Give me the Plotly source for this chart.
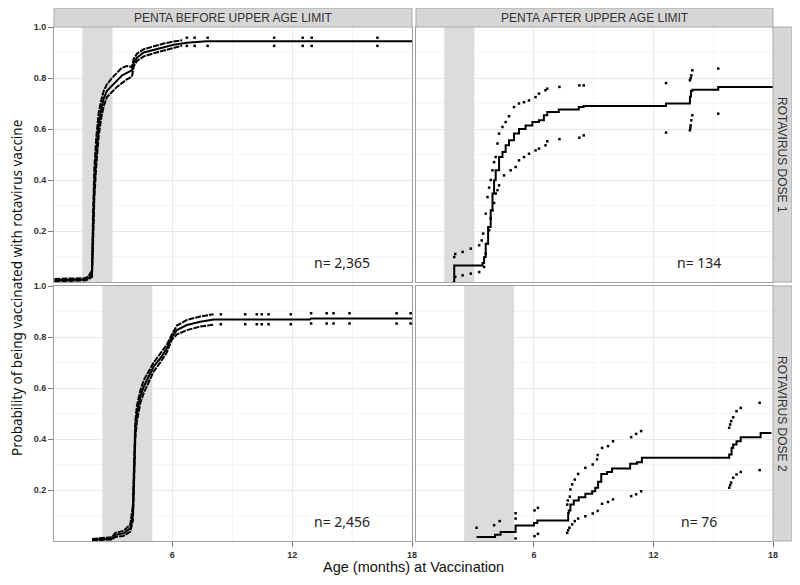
import plotly.graph_objects as go
from plotly.subplots import make_subplots

# facet labels and panel notes
col_labels = ["PENTA BEFORE UPPER AGE LIMIT", "PENTA AFTER UPPER AGE LIMIT"]
row_labels = ["ROTAVIRUS DOSE 1", "ROTAVIRUS DOSE 2"]
n_labels = ["n= 2,365", "n= 134", "n= 2,456", "n= 76"]
window_dose1 = [1.5, 3.0]
window_dose2 = [2.5, 5.0]

# --- dose 1, penta before limit (dense curve) ---
tl_t = [0.1, 1.65, 1.82, 1.98, 2.03, 2.1, 2.2, 2.32, 2.45, 2.57, 2.73, 2.98, 3.23, 3.48,
        3.73, 3.98, 4.07, 4.23, 4.57, 5.07, 5.57, 6.07, 6.5, 6.73, 7.73, 18]
tl_est = [0.007, 0.01, 0.017, 0.03, 0.19, 0.38, 0.51, 0.62, 0.68, 0.72, 0.75, 0.77, 0.79, 0.81,
          0.82, 0.83, 0.86, 0.88, 0.90, 0.91, 0.92, 0.93, 0.935, 0.938, 0.944, 0.944]
tl_ci_t = [0.1, 1.65, 1.82, 1.98, 2.03, 2.1, 2.2, 2.32, 2.45, 2.57, 2.73, 2.98, 3.23, 3.48,
           3.73, 3.98, 4.07, 4.23, 4.57, 5.07, 5.57, 6.07, 6.5]
tl_hi = [0.012, 0.015, 0.024, 0.045, 0.25, 0.45, 0.57, 0.665, 0.715, 0.75, 0.775, 0.80, 0.82, 0.84,
         0.847, 0.843, 0.875, 0.895, 0.913, 0.925, 0.935, 0.943, 0.948]
tl_lo = [0.003, 0.006, 0.011, 0.02, 0.14, 0.33, 0.46, 0.575, 0.645, 0.69, 0.725, 0.745, 0.765, 0.78,
         0.795, 0.805, 0.845, 0.867, 0.885, 0.897, 0.908, 0.92, 0.927]
tl_dot_t = [6.73, 7.12, 7.77, 11.1, 12.53, 12.98, 16.27]
tl_dot_hi = [0.958, 0.958, 0.958, 0.958, 0.958, 0.958, 0.958]
tl_dot_lo = [0.926, 0.926, 0.926, 0.926, 0.926, 0.926, 0.926]

# --- dose 2, penta before limit (dense curve) ---
bl_t = [1.98, 2.98, 3.15, 3.57, 3.9, 4.03, 4.1, 4.15, 4.23, 4.4, 4.57, 4.82, 5.07, 5.4, 5.73,
        5.98, 6.23, 6.73, 7.4, 8.07, 12.9, 12.95, 18]
bl_est = [0.005, 0.01, 0.024, 0.03, 0.05, 0.11, 0.30, 0.435, 0.50, 0.566, 0.605, 0.644, 0.684,
          0.716, 0.756, 0.80, 0.827, 0.847, 0.86, 0.869, 0.869, 0.873, 0.873]
bl_ci_t = [1.98, 2.98, 3.15, 3.57, 3.9, 4.03, 4.1, 4.15, 4.23, 4.4, 4.57, 4.82, 5.07, 5.4, 5.73,
           5.98, 6.23, 6.73, 7.4, 8.07]
bl_hi = [0.008, 0.015, 0.032, 0.04, 0.065, 0.14, 0.34, 0.47, 0.53, 0.59, 0.63, 0.665, 0.70,
         0.735, 0.77, 0.81, 0.845, 0.867, 0.88, 0.889]
bl_lo = [0.002, 0.006, 0.016, 0.02, 0.037, 0.08, 0.26, 0.40, 0.47, 0.54, 0.58, 0.62, 0.665,
         0.70, 0.74, 0.79, 0.81, 0.827, 0.841, 0.848]
bl_dot_t = [8.43, 9.65, 10.23, 10.48, 10.82, 11.93, 12.95, 13.73, 14.07, 14.87, 17.23, 17.93]
bl_dot_hi = [0.889, 0.889, 0.889, 0.889, 0.889, 0.889, 0.893, 0.893, 0.893, 0.893, 0.893, 0.893]
bl_dot_lo = [0.850, 0.850, 0.850, 0.850, 0.850, 0.850, 0.853, 0.853, 0.853, 0.853, 0.853, 0.853]

# --- dose 1, penta after limit (step curve) ---
tr_t = [1.92, 2.0, 3.42, 3.5, 3.58, 3.7, 3.83, 3.92, 4.0, 4.08, 4.25, 4.42, 4.58, 4.75, 5.0,
        5.25, 5.58, 5.92, 6.25, 6.5, 6.67, 7.25, 8.25, 8.5, 12.63, 13.83, 13.88, 13.95, 15.25, 18]
tr_est = [0.0, 0.065, 0.075, 0.098, 0.15, 0.216, 0.281, 0.347, 0.399, 0.438, 0.49, 0.51, 0.536,
          0.556, 0.582, 0.60, 0.614, 0.627, 0.634, 0.654, 0.667, 0.676, 0.686, 0.69, 0.70,
          0.726, 0.749, 0.754, 0.765, 0.765]
tr_hi_t = [2.0, 2.05, 2.42, 2.83, 3.25, 3.38, 3.45, 3.58, 3.67, 3.75, 3.83, 3.92, 4.0, 4.08,
           4.17, 4.25, 4.42, 4.58, 4.75, 5.0, 5.25, 5.5, 5.75, 6.08, 6.25, 6.58, 6.67, 7.28,
           8.28, 8.5, 12.63, 13.83, 13.87, 13.9, 13.95, 15.25]
tr_hi = [0.098, 0.11, 0.118, 0.131, 0.144, 0.163, 0.19, 0.268, 0.333, 0.37, 0.40, 0.438, 0.47,
         0.49, 0.543, 0.582, 0.608, 0.627, 0.65, 0.686, 0.70, 0.705, 0.712, 0.725, 0.739, 0.752,
         0.758, 0.765, 0.771, 0.771, 0.78, 0.791, 0.80, 0.81, 0.83, 0.837]
tr_lo_t = [2.05, 2.42, 2.83, 3.25, 3.5, 3.58, 3.67, 3.75, 3.83, 3.92, 4.0, 4.08, 4.17, 4.25,
           4.5, 4.83, 5.08, 5.25, 5.5, 5.75, 6.08, 6.25, 6.58, 6.67, 7.28, 8.28, 8.5, 12.63,
           13.83, 13.85, 13.87, 13.9, 13.95, 15.25]
tr_lo = [0.02, 0.026, 0.033, 0.039, 0.059, 0.111, 0.15, 0.203, 0.25, 0.281, 0.31, 0.347, 0.36,
         0.379, 0.418, 0.438, 0.451, 0.477, 0.49, 0.503, 0.516, 0.523, 0.536, 0.552, 0.56,
         0.566, 0.575, 0.586, 0.595, 0.605, 0.614, 0.634, 0.654, 0.66]

# --- dose 2, penta after limit (step curve) ---
br_t = [3.12, 4.05, 4.33, 5.08, 6.0, 6.17, 7.72, 7.75, 7.83, 8.0, 8.25, 8.58, 8.92, 9.08, 9.22,
        9.38, 9.67, 9.92, 10.83, 11.17, 11.42, 15.8, 15.92, 16.0, 16.17, 16.38, 17.38, 17.92]
br_est = [0.016, 0.025, 0.035, 0.061, 0.071, 0.08, 0.11, 0.12, 0.143, 0.159, 0.172, 0.185,
          0.195, 0.209, 0.232, 0.263, 0.271, 0.284, 0.303, 0.309, 0.326, 0.339, 0.365, 0.378,
          0.391, 0.407, 0.424, 0.424]
br_hi_t = [3.12, 4.0, 4.28, 5.08, 5.08, 6.03, 6.2, 7.67, 7.7, 7.8, 7.83, 7.92, 8.05, 8.22, 8.58,
           8.95, 9.17, 9.2, 9.42, 9.72, 9.97, 10.88, 11.13, 11.38, 15.8, 15.85, 15.9, 16.0,
           16.17, 16.38, 17.33]
br_hi = [0.052, 0.062, 0.078, 0.088, 0.109, 0.12, 0.13, 0.143, 0.159, 0.174, 0.202, 0.222,
         0.241, 0.263, 0.287, 0.30, 0.32, 0.337, 0.365, 0.372, 0.391, 0.407, 0.42, 0.431, 0.444,
         0.457, 0.47, 0.485, 0.509, 0.522, 0.542]
br_lo_t = [5.08, 6.03, 6.2, 7.67, 7.72, 7.78, 7.92, 8.05, 8.22, 8.58, 8.95, 9.2, 9.42, 9.72,
           9.97, 10.88, 11.13, 11.38, 15.8, 15.85, 15.9, 16.0, 16.17, 16.38, 17.33]
br_lo = [0.01, 0.019, 0.028, 0.032, 0.042, 0.052, 0.065, 0.078, 0.088, 0.097, 0.108, 0.118,
         0.146, 0.153, 0.163, 0.176, 0.183, 0.195, 0.209, 0.219, 0.229, 0.248, 0.261, 0.271,
         0.278]

ARIAL = "Arial, Liberation Sans, sans-serif"
SANS = "Noto Sans, Open Sans, sans-serif"

fig = make_subplots(rows=2, cols=2, horizontal_spacing=0.005, vertical_spacing=0.008)

dot = dict(color="black", size=2.5, symbol="square")


def dense_panel(r, c, t, est, ci_t, hi, lo, dt, dhi, dlo):
    for ys in (hi, lo):
        fig.add_trace(go.Scatter(x=ci_t, y=ys, mode="lines",
                                 line=dict(color="black", width=2, dash="6px,1px"),
                                 showlegend=False), row=r, col=c)
    fig.add_trace(go.Scatter(x=dt + dt, y=dhi + dlo, mode="markers", marker=dot,
                             showlegend=False), row=r, col=c)
    fig.add_trace(go.Scatter(x=t, y=est, mode="lines", line=dict(color="black", width=2),
                             showlegend=False), row=r, col=c)


def step_panel(r, c, t, est, hi_t, hi, lo_t, lo):
    fig.add_trace(go.Scatter(x=hi_t + lo_t, y=hi + lo, mode="markers", marker=dot,
                             showlegend=False), row=r, col=c)
    fig.add_trace(go.Scatter(x=t, y=est, mode="lines", line=dict(color="black", width=2, shape="hv"),
                             showlegend=False), row=r, col=c)


dense_panel(1, 1, tl_t, tl_est, tl_ci_t, tl_hi, tl_lo, tl_dot_t, tl_dot_hi, tl_dot_lo)
step_panel(1, 2, tr_t, tr_est, tr_hi_t, tr_hi, tr_lo_t, tr_lo)
dense_panel(2, 1, bl_t, bl_est, bl_ci_t, bl_hi, bl_lo, bl_dot_t, bl_dot_hi, bl_dot_lo)
step_panel(2, 2, br_t, br_est, br_hi_t, br_hi, br_lo_t, br_lo)

# page pixels: panels 54-412 / 416-773 wide, 27-282 / 286-541 high.
# the page body has an 8px margin, so the figure itself starts at (8, 8).
OFF = 8
W, H = 800 - OFF, 585 - OFF
ml, mr, mt, mb = 54 - OFF, 27, 27 - OFF, 44
pw, ph = W - ml - mr, H - mt - mb


def px_x(p):
    return (p - 54) / pw


def px_y(p):
    return (541 - p) / ph


xl = [0, px_x(412)]
xr = [px_x(416), 1]
yt = [px_y(282), 1]
yb = [0, px_y(286)]

windows = [window_dose1, window_dose1, window_dose2, window_dose2]
for i in range(4):
    ax = "" if i == 0 else str(i + 1)
    left = i % 2 == 0
    bottom = i >= 2
    fig.update_layout({
        "xaxis" + ax: dict(domain=xl if left else xr, range=[0.08, 18], tickvals=[6, 12, 18],
                           ticktext=["<b>6</b>", "<b>12</b>", "<b>18</b>"],
                           showticklabels=bottom, ticks="outside" if bottom else "",
                           ticklen=5, tickcolor="#777",
                           tickfont=dict(family=ARIAL, size=9, color="#333"),
                           showgrid=True, gridcolor="#e9e9e9", gridwidth=1,
                           minor=dict(dtick=3, tick0=0, showgrid=True, gridcolor="#f5f5f5"),
                           showline=True, mirror=True, linecolor="#a0a0a0", linewidth=1,
                           zeroline=False),
        "yaxis" + ax: dict(domain=yt if i < 2 else yb, range=[0, 1.0],
                           tickvals=[0.2, 0.4, 0.6, 0.8, 1.0],
                           ticktext=["<b>0.2</b>", "<b>0.4</b>", "<b>0.6</b>", "<b>0.8</b>", "<b>1.0</b>"],
                           showticklabels=left, ticks="outside" if left else "",
                           ticklen=5, tickcolor="#777",
                           tickfont=dict(family=ARIAL, size=9, color="#333"),
                           showgrid=True, gridcolor="#e9e9e9", gridwidth=1,
                           minor=dict(dtick=0.1, tick0=0, showgrid=True, gridcolor="#f5f5f5"),
                           showline=True, mirror=True, linecolor="#a0a0a0", linewidth=1,
                           zeroline=False),
    })
    fig.add_shape(type="rect", xref="x" + ax, yref="y" + ax,
                  x0=windows[i][0], x1=windows[i][1], y0=0, y1=1,
                  fillcolor="#dcdcdc", line_width=0, layer="between")
    fig.add_annotation(text=n_labels[i], xref="x" + ax, yref="y" + ax,
                       x=14.5 if left else 14.3, y=0.077, showarrow=False,
                       xanchor="center", yanchor="middle",
                       font=dict(family=SANS, size=14, color="#222"))

# facet strips
strip_top = px_y(8)
strip_right = px_x(792)
for dom, lab in zip([xl, xr], col_labels):
    fig.add_shape(type="rect", xref="paper", yref="paper", x0=dom[0], x1=dom[1], y0=1,
                  y1=strip_top, fillcolor="#d6d6d6", line=dict(color="#a8a8a8", width=1))
    fig.add_annotation(text=lab, xref="paper", yref="paper", x=(dom[0] + dom[1]) / 2,
                       y=(1 + strip_top) / 2, showarrow=False, xanchor="center", yanchor="middle",
                       font=dict(family=ARIAL, size=12, color="#333"))
for dom, lab in zip([yt, yb], row_labels):
    fig.add_shape(type="rect", xref="paper", yref="paper", x0=1, x1=strip_right, y0=dom[0],
                  y1=dom[1], fillcolor="#d6d6d6", line=dict(color="#a8a8a8", width=1))
    fig.add_annotation(text=lab, xref="paper", yref="paper", x=(1 + strip_right) / 2,
                       y=(dom[0] + dom[1]) / 2, showarrow=False, textangle=90,
                       xanchor="center", yanchor="middle",
                       font=dict(family=ARIAL, size=12, color="#333"))

# axis titles
fig.add_annotation(text="Age (months) at Vaccination", xref="paper", yref="paper",
                   x=px_x(413), y=px_y(567), showarrow=False, xanchor="center", yanchor="middle",
                   font=dict(family=ARIAL, size=14.5, color="#111"))
fig.add_annotation(text="Probability of being vaccinated with rotavirus vaccine",
                   xref="paper", yref="paper", x=px_x(17), y=px_y(288),
                   showarrow=False, textangle=-90, xanchor="center", yanchor="middle",
                   font=dict(family=SANS, size=13.5, color="#111"))

fig.update_layout(width=W, height=H, margin=dict(l=ml, r=mr, t=mt, b=mb),
                  paper_bgcolor="white", plot_bgcolor="white", showlegend=False)

fig.write_html("out.html")
